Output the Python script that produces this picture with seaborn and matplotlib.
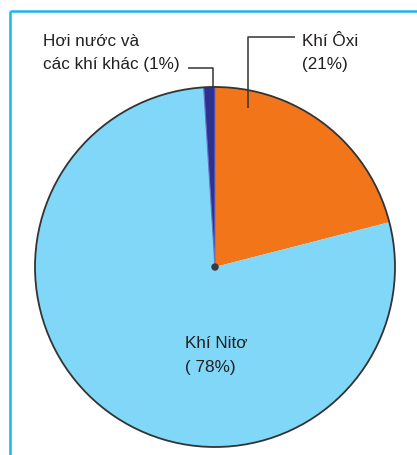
import matplotlib
matplotlib.use("Agg")
import matplotlib.pyplot as plt
from matplotlib.patches import Circle
import seaborn as sns

# Composition of air (percent by volume)
gases = ["Khí Ôxi", "Khí Nitơ", "Hơi nước và các khí khác"]
shares = [21, 78, 1]
colors = ["#F27619", "#80D7F7", "#2E3192"]

sns.set_theme(style="white")
plt.rcParams["font.family"] = ["Liberation Sans Narrow", "Liberation Sans", "DejaVu Sans"]

W, H = 417, 455
fig = plt.figure(figsize=(W / 100, H / 100), dpi=100)
ax = fig.add_axes([0, 0, 1, 1])


def py(y):
    """Convert a top-down pixel row into the axes' bottom-up coordinate."""
    return H - y


cx, cy, r = 215, py(267), 180
wedges, _ = ax.pie(
    shares,
    colors=colors,
    startangle=90,
    counterclock=False,
    center=(cx, cy),
    radius=r,
    wedgeprops=dict(linewidth=0),
)
wedges[2].set_edgecolor("#6C70C4")
wedges[2].set_linewidth(0.8)

# outer rim and centre dot
ax.add_patch(Circle((cx, cy), r, fill=False, edgecolor="#333333", linewidth=1.3, zorder=3))
ax.add_patch(Circle((cx, cy), 3, color="#3a3a3a", zorder=4))

ink = "#231F20"
line_kw = dict(color="#333333", linewidth=1.1, solid_capstyle="butt", zorder=5)

# leader lines
ax.plot([188, 213, 213], [py(68), py(68), py(88)], **line_kw)
ax.plot([295, 248, 248], [py(37), py(37), py(108)], **line_kw)

fs = 12.3
txt = dict(fontsize=fs, color=ink, ha="left", va="baseline")
ax.text(43, py(46.5), "Hơi nước và", **txt)
ax.text(43, py(69.5), "các khí khác (1%)", **txt)
ax.text(302, py(46.5), "Khí Ôxi", **txt)
ax.text(302, py(69.5), "(21%)", **txt)
ax.text(185, py(348), "Khí Nitơ", **txt)
ax.text(185, py(372), "( 78%)", **txt)

# frame around the figure (top and left edges)
frame_kw = dict(color="#1DB4EE", linewidth=1.8, solid_capstyle="butt", zorder=6)
ax.plot([10, W + 5], [py(11), py(11)], **frame_kw)
ax.plot([10, 10], [py(11), -5], **frame_kw)

ax.set_xlim(0, W)
ax.set_ylim(0, H)
ax.set_aspect("equal")
ax.axis("off")

fig.savefig("out.png", dpi=100)
